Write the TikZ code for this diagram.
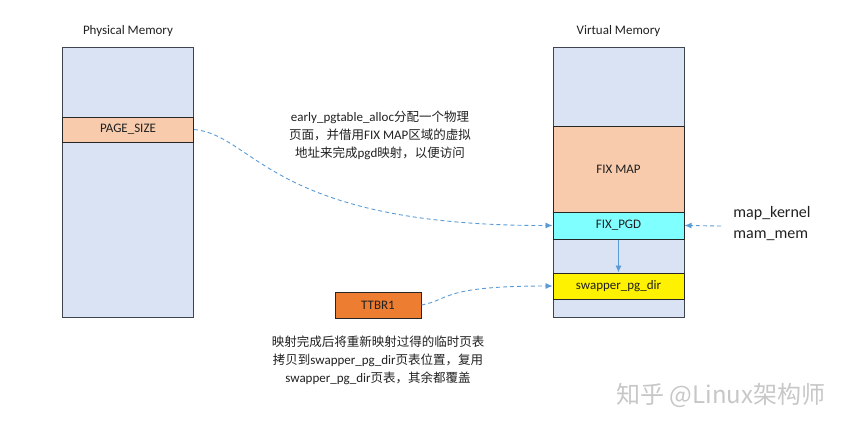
\documentclass[tikz,border=0pt]{standalone}
\usepackage{fontspec}
\setmainfont{Carlito}
\newfontfamily\cjk{Noto Sans CJK SC}
\usetikzlibrary{arrows.meta}
\definecolor{memblue}{HTML}{DAE3F3}
\definecolor{peach}{HTML}{F8CBAD}
\definecolor{cyanbox}{HTML}{7FFFFF}
\definecolor{ttbr}{HTML}{ED7D31}
\definecolor{edge}{HTML}{3F4550}
\definecolor{arrowblue}{HTML}{5B9BD5}
\definecolor{txt}{HTML}{202020}
\newcommand{\lat}[1]{{\rmfamily\fontsize{13}{18}\selectfont #1}}
\tikzset{
  membox/.style={draw=edge, line width=1pt, fill=memblue, minimum width=131pt, minimum height=270pt, inner sep=0pt},
  band/.style={draw=black!85, line width=1pt, minimum width=131pt, inner sep=0pt, text=txt, font=\fontsize{13}{15}\selectfont},
  dasharrow/.style={draw=arrowblue, line width=0.9pt, dash pattern=on 4pt off 3pt, -{Latex[length=7pt,width=6pt]}},
  solidarrow/.style={draw=arrowblue, line width=0.9pt, -{Latex[length=7pt,width=6pt]}},
  title/.style={text=txt, font=\fontsize{13}{15}\selectfont},
  note/.style={text=txt, align=center, font=\cjk\fontsize{12.5}{18}\selectfont}
}
\begin{document}
\begin{tikzpicture}[x=1pt,y=-1pt]
\useasboundingbox (0,0) rectangle (854,431);
% titles
\node[title] (pt) at (128,31) {Physical Memory};
\node[title] (vt) at (618.5,31) {Virtual Memory};
% physical memory
\node[membox] (phys) at (128,182) {};
\node[band, fill=peach, minimum height=25pt] (page) at (128,129.5) {PAGE\_SIZE};
% virtual memory
\node[membox] (virt) at (618.5,182) {};
\node[band, fill=peach, minimum height=86pt] (fixmap) at (618.5,169) {FIX MAP};
\node[band, fill=cyanbox, minimum height=27pt] (fixpgd) at (618.5,225.5) {FIX\_PGD};
\node[band, fill=yellow, minimum height=26pt] (swap) at (618.5,286) {swapper\_pg\_dir};
% TTBR1
\node[draw=black!85, line width=1pt, fill=ttbr, minimum width=86pt, minimum height=26pt, inner sep=0pt, text=txt, font=\fontsize{13}{15}\selectfont] (ttbr1) at (378,305) {TTBR1};
% notes
\node[note] (n1) at (380,135) {\lat{early\_pgtable\_alloc}分配一个物理\\页面，并借用\lat{FIX MAP}区域的虚拟\\地址来完成\lat{pgd}映射，以便访问};
\node[note] (n2) at (378,360) {映射完成后将重新映射过得的临时页表\\拷贝到\lat{swapper\_pg\_dir}页表位置，复用\\\lat{swapper\_pg\_dir}页表，其余都覆盖};
\node[text=txt, font=\fontsize{16}{21}\selectfont, align=left] (mk) at (772,223.5) {map\_kernel\\mam\_mem};
\coordinate (mkend) at (721,226);
% watermark
\node[text=black!22, font=\cjk\fontsize{24}{28}\selectfont] (wm) at (721,395) {知乎 @Linux架构师};
% connectors
\draw[dasharrow] (page.east) .. controls (255,135) and (270,226) .. (fixpgd.west);
\draw[dasharrow] (ttbr1.east) .. controls (450,300) and (440,286) .. (swap.west);
\draw[dasharrow] (mkend) -- (fixpgd.east);
\draw[solidarrow] (fixpgd.south) -- (swap.north);
\end{tikzpicture}
\end{document}
